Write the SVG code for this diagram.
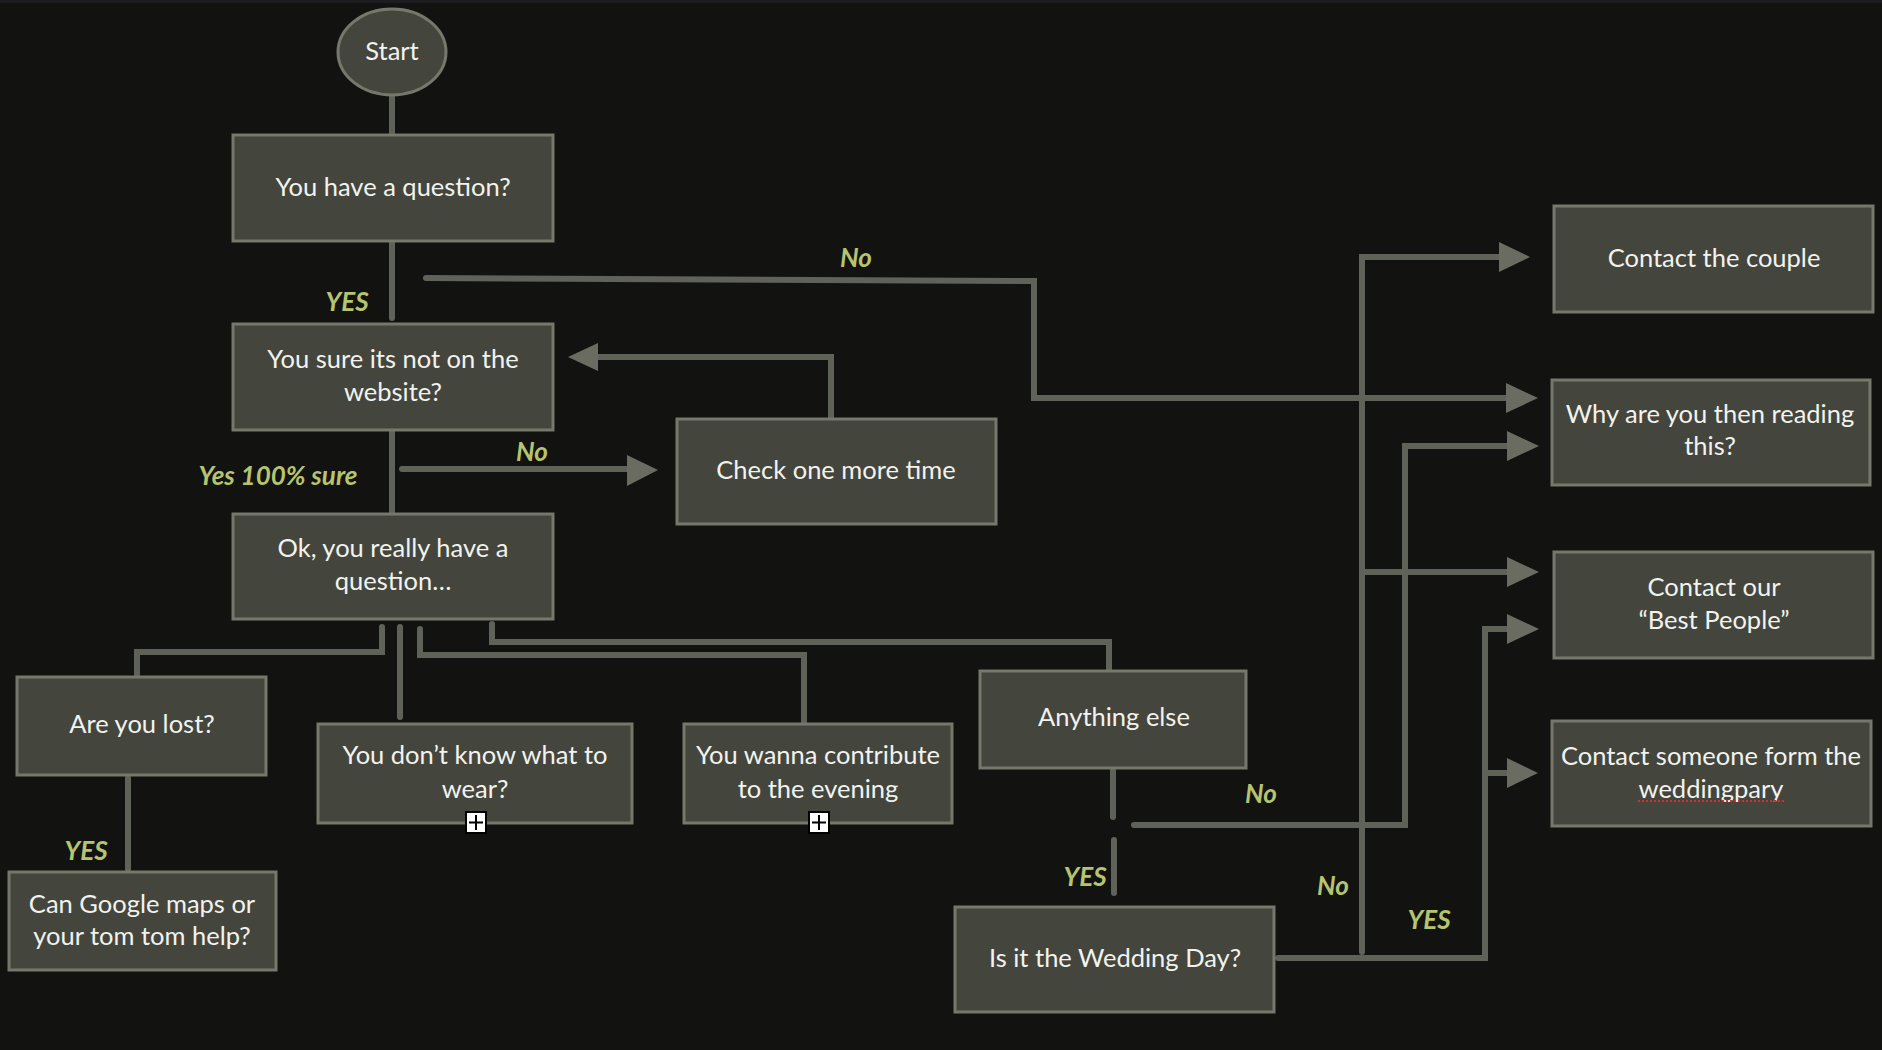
<svg xmlns="http://www.w3.org/2000/svg" width="1882" height="1050" viewBox="0 0 1882 1050">
<defs>
<style>
.node rect, .node ellipse { fill: #44463d; stroke: #75786b; stroke-width: 3; }
.node text { font-family: Lato, "Noto Sans", "Liberation Sans", sans-serif; font-size: 25.5px; fill: #f2f2ee; text-anchor: middle; }
.con path { fill: none; stroke: #5f6258; stroke-width: 6; stroke-linecap: round; stroke-linejoin: miter; }
.con polygon { fill: #6a6c62; }
.lbl { font-family: Lato, "Noto Sans", "Liberation Sans", sans-serif; font-size: 26px; font-style: italic; font-weight: bold; fill: #b7c46f; text-anchor: middle; }
</style>
</defs>
<rect x="0" y="0" width="1882" height="1050" fill="#121211"/>
<rect x="0" y="0" width="1882" height="3" fill="#1d1d1f"/>

<g id="connectors" class="con">
<path d="M392 95 V134"/>
<path d="M392 241 V318"/>
<path d="M426 278 L1034 281 V398 H1508"/>
<polygon points="1506,383 1538,398 1506,413"/>
<path d="M392 430 V514"/>
<path d="M402 469 H628"/>
<polygon points="627,455 658,470 627,486"/>
<path d="M831 419 V357 H598"/>
<polygon points="598,343 568,357 598,371"/>
<path d="M382 627 V652 H137 V675"/>
<path d="M400 627 V717"/>
<path d="M420 629 V655 H804 V722"/>
<path d="M492 624 V642 H1109 V669"/>
<path d="M128 778 V870"/>
<path d="M1113 768 V817"/>
<path d="M1114 840 V893"/>
<path d="M1134 825 H1405 V446 H1508"/>
<polygon points="1507,431 1539,446 1507,461"/>
<path d="M1278 958 H1485 V629 H1508"/>
<polygon points="1507,614 1539,629 1507,644"/>
<path d="M1485 773 H1508"/>
<polygon points="1507,758 1538,773 1507,788"/>
<path d="M1362 952 V257 H1500"/>
<polygon points="1499,242 1530,257 1499,272"/>
<path d="M1362 572 H1508"/>
<polygon points="1507,557 1539,572 1507,587"/>
</g>

<g id="labels">
<text class="lbl" x="347" y="311">YES</text>
<text class="lbl" x="856" y="267">No</text>
<text class="lbl" x="278" y="485">Yes 100% sure</text>
<text class="lbl" x="532" y="461">No</text>
<text class="lbl" x="86" y="860">YES</text>
<text class="lbl" x="1085" y="886">YES</text>
<text class="lbl" x="1261" y="803">No</text>
<text class="lbl" x="1333" y="895">No</text>
<text class="lbl" x="1429" y="929">YES</text>
</g>

<g id="start" class="node"><ellipse cx="392" cy="52" rx="54" ry="43"/><text x="392" y="60">Start</text></g>
<g id="have-question" class="node"><rect x="233" y="135" width="320" height="106"/><text x="393" y="196">You have a question?</text></g>
<g id="not-on-website" class="node"><rect x="233" y="324" width="320" height="106"/><text x="393" y="368">You sure its not on the</text><text x="393" y="401">website?</text></g>
<g id="check-again" class="node"><rect x="677" y="419" width="319" height="105"/><text x="836" y="479">Check one more time</text></g>
<g id="really-question" class="node"><rect x="233" y="514" width="320" height="105"/><text x="393" y="557">Ok, you really have a</text><text x="393" y="590">question…</text></g>
<g id="lost" class="node"><rect x="17" y="677" width="249" height="98"/><text x="142" y="733">Are you lost?</text></g>
<g id="wear" class="node"><rect x="318" y="724" width="314" height="99"/><text x="475" y="764">You don’t know what to</text><text x="475" y="798">wear?</text></g>
<g id="contribute" class="node"><rect x="684" y="724" width="268" height="99"/><text x="818" y="764">You wanna contribute</text><text x="818" y="798">to the evening</text></g>
<g id="anything-else" class="node"><rect x="980" y="671" width="266" height="97"/><text x="1114" y="726">Anything else</text></g>
<g id="google-maps" class="node"><rect x="9" y="872" width="267" height="98"/><text x="142" y="913">Can Google maps or</text><text x="142" y="945">your tom tom help?</text></g>
<g id="wedding-day" class="node"><rect x="955" y="907" width="319" height="105"/><text x="1115" y="967">Is it the Wedding Day?</text></g>
<g id="contact-couple" class="node"><rect x="1554" y="206" width="319" height="106"/><text x="1714" y="267">Contact the couple</text></g>
<g id="why-reading" class="node"><rect x="1552" y="380" width="318" height="105"/><text x="1710" y="423">Why are you then reading</text><text x="1710" y="455">this?</text></g>
<g id="best-people" class="node"><rect x="1554" y="552" width="319" height="106"/><text x="1714" y="596">Contact our</text><text x="1714" y="629">“Best People”</text></g>
<g id="wedding-party" class="node"><rect x="1552" y="721" width="319" height="105"/><text x="1711" y="765">Contact someone form the</text><text x="1711" y="798">weddingpary</text>
<line x1="1638" y1="801" x2="1785" y2="801" stroke="#d0312d" stroke-width="2" stroke-dasharray="2,2"/></g>

<g id="expand-icons">
<rect x="466" y="812" width="20" height="21" fill="#ffffff" stroke="#000000" stroke-width="2"/>
<path d="M469 822.5 H483 M476 815 V830" stroke="#000000" stroke-width="2"/>
<rect x="809" y="812" width="20" height="21" fill="#ffffff" stroke="#000000" stroke-width="2"/>
<path d="M812 822.5 H826 M819 815 V830" stroke="#000000" stroke-width="2"/>
</g>
</svg>
